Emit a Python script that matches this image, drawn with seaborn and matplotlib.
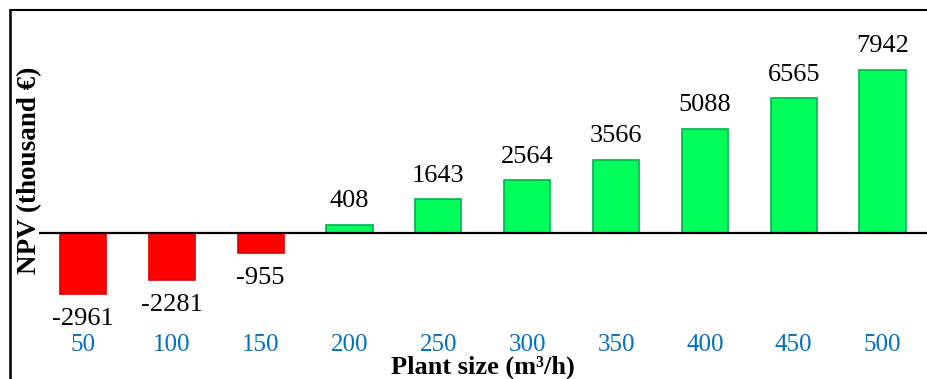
import matplotlib
matplotlib.use("Agg")
import matplotlib.pyplot as plt
from matplotlib.lines import Line2D
import pandas as pd
import seaborn as sns

# data
plant_size = ["50", "100", "150", "200", "250", "300", "350", "400", "450", "500"]
npv = [-2961, -2281, -955, 408, 1643, 2564, 3566, 5088, 6565, 7942]

RED = "#FF0000"
GREEN = "#00FF5A"
GREEN_EDGE = "#00B050"
TICK_BLUE = "#0070C0"

df = pd.DataFrame({"size": plant_size, "npv": npv})
df["sign"] = ["neg" if v < 0 else "pos" for v in npv]

sns.set_style("white")
plt.rcParams["font.family"] = ["Liberation Serif", "DejaVu Serif"]

W, H = 927, 379
fig = plt.figure(figsize=(W / 100, H / 100), dpi=100)
# axes: x from 38.5px to 927px, y from 10px to 320px
ax = fig.add_axes([38.5 / W, (H - 320) / H, (W - 38.5) / W, 310 / H])

sns.barplot(data=df, x="size", y="npv", hue="sign", order=plant_size,
            palette={"neg": RED, "pos": GREEN}, width=0.52, legend=False,
            saturation=1, ax=ax)

for p in ax.patches:
    if p.get_height() < 0:
        p.set_edgecolor("#E00000")
    else:
        p.set_edgecolor(GREEN_EDGE)
    p.set_linewidth(1.2)

ax.set_xlim(-0.5, 9.5)
ax.set_ylim(-4240, 10867)
ax.axhline(0, color="black", lw=1.6, zorder=5)

for i, v in enumerate(npv):
    off = 17 if v >= 0 else -18
    ax.annotate(str(v), (i, v), xytext=(0, off), textcoords="offset points",
                ha="center", va="center", fontsize=19, color="black")

for s in ax.spines.values():
    s.set_visible(False)
ax.set_yticks([])
ax.tick_params(axis="x", length=0, pad=10, labelsize=18, labelcolor=TICK_BLUE)
ax.set_xlabel("")
ax.set_ylabel("")

fig.text(483 / W, 1 - 367 / H, "Plant size (m³/h)", ha="center", va="center",
         fontsize=19, fontweight="bold", color="black")
fig.text(30 / W, 1 - 170 / H, "NPV (thousand €)", rotation=90, ha="center",
         va="center", fontsize=19.5, fontweight="bold", color="black")

# chart frame (left and top edges)
fig.add_artist(Line2D([10 / W, 10 / W], [0, 1 - 10 / H], color="black", lw=1.8,
                      transform=fig.transFigure))
fig.add_artist(Line2D([10 / W, 1], [1 - 10 / H, 1 - 10 / H], color="black",
                      lw=1.5, transform=fig.transFigure))

fig.savefig("out.png", dpi=100)
